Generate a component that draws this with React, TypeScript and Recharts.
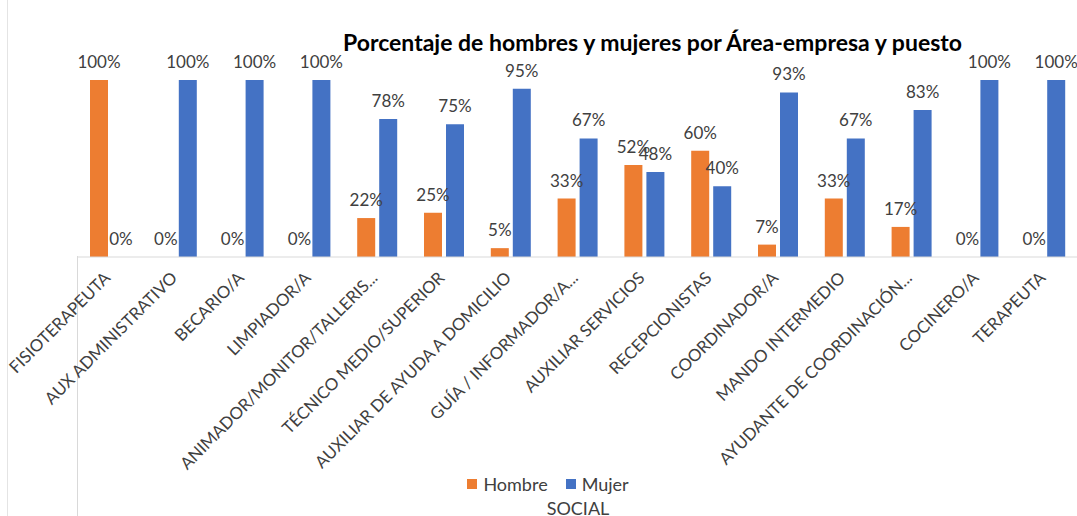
import React from 'react';
import { BarChart, Bar, XAxis, YAxis, LabelList, Legend } from 'recharts';

const categories = [
  'FISIOTERAPEUTA',
  'AUX ADMINISTRATIVO',
  'BECARIO/A',
  'LIMPIADOR/A',
  'ANIMADOR/MONITOR/TALLERIS...',
  'TÉCNICO MEDIO/SUPERIOR',
  'AUXILIAR DE AYUDA A DOMICILIO',
  'GUÍA / INFORMADOR/A...',
  'AUXILIAR SERVICIOS',
  'RECEPCIONISTAS',
  'COORDINADOR/A',
  'MANDO INTERMEDIO',
  'AYUDANTE DE COORDINACIÓN...',
  'COCINERO/A',
  'TERAPEUTA',
];

const hombre = [100, 0, 0, 0, 22, 25, 5, 33, 52, 60, 7, 33, 17, 0, 0];
const mujer = [0, 100, 100, 100, 78, 75, 95, 67, 48, 40, 93, 67, 83, 100, 100];

const data = categories.map((name, i) => ({ name, Hombre: hombre[i], Mujer: mujer[i] }));

const FONT = 'Lato, "Open Sans", sans-serif';
const TEXT = '#404040';

const AngledTick = (props: any) => {
  const { x, y, payload } = props;
  return (
    <g transform={`translate(${x + 1},${y + 14})`}>
      <text
        textAnchor="end"
        transform="rotate(-45)"
        fill={TEXT}
        fontSize={16.8}
        fontFamily={FONT}
      >
        {payload.value}
      </text>
    </g>
  );
};

const ValueLabel = (props: any) => {
  const { x, y, width, value } = props;
  return (
    <text
      x={x + width / 2}
      y={y - 12}
      textAnchor="middle"
      fill={TEXT}
      fontSize={17}
      fontFamily={FONT}
    >
      {`${value}%`}
    </text>
  );
};

const LegendContent = () => (
  <div style={{ display: 'flex', justifyContent: 'center', gap: 18, fontFamily: FONT, fontSize: 18, color: TEXT }}>
    {[
      { name: 'Hombre', color: '#ED7D31' },
      { name: 'Mujer', color: '#4472C4' },
    ].map((s) => (
      <div key={s.name} style={{ display: 'flex', alignItems: 'center', gap: 6 }}>
        <div style={{ width: 10, height: 10, background: s.color }} />
        <span>{s.name}</span>
      </div>
    ))}
  </div>
);

export default function App() {
  return (
    <div style={{ position: 'absolute', left: 0, top: 0, width: 1077, height: 516, overflow: 'hidden', background: '#fff' }}>
      <div style={{ position: 'absolute', left: 7, top: 0, width: 1, height: 516, background: '#E4E4E4' }} />
      <div style={{ position: 'absolute', left: 77, top: 256, width: 1, height: 260, background: '#D9D9D9' }} />
      <div
        style={{
          position: 'absolute',
          left: 300,
          top: 28,
          width: 705,
          textAlign: 'center',
          fontFamily: FONT,
          fontWeight: 'bold',
          fontSize: 23,
          color: '#000',
          whiteSpace: 'nowrap',
        }}
      >
        Porcentaje de hombres y mujeres por Área-empresa y puesto
      </div>
      <BarChart
        width={1082}
        height={516}
        data={data}
        margin={{ top: 80, right: 3, left: 77, bottom: 0 }}
        barSize={18}
        barGap={4}
      >
        <XAxis
          dataKey="name"
          interval={0}
          height={237}
          tick={<AngledTick />}
          tickLine={false}
          axisLine={{ stroke: '#D9D9D9' }}
        />
        <YAxis hide domain={[0, 100]} />
        <Legend
          verticalAlign="bottom"
          content={<LegendContent />}
          wrapperStyle={{ left: 398, width: 300, top: 473 }}
        />
        <Bar dataKey="Hombre" fill="#ED7D31" minPointSize={0.01} isAnimationActive={false}>
          <LabelList dataKey="Hombre" content={<ValueLabel />} />
        </Bar>
        <Bar dataKey="Mujer" fill="#4472C4" minPointSize={0.01} isAnimationActive={false}>
          <LabelList dataKey="Mujer" content={<ValueLabel />} />
        </Bar>
      </BarChart>
      <div style={{ position: 'absolute', left: 528, top: 497, width: 100, textAlign: 'center', fontFamily: FONT, fontSize: 18, color: TEXT }}>
        SOCIAL
      </div>
    </div>
  );
}
